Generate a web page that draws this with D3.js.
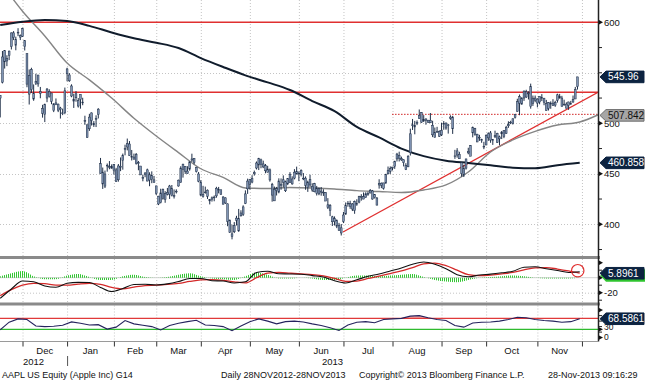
<!DOCTYPE html>
<html>
<head>
<meta charset="utf-8">
<script src="https://cdn.jsdelivr.net/npm/d3@7"></script>
<style>
  body { margin: 0; background: #fff; }
  svg text { font-family: "Liberation Sans", Arial, sans-serif; }
</style>
</head>
<body>
<div id="chart"></div>
<script>
// Daily bars [open, high, low, close], one small array per month
const nov2012 = [[525,528,505.8,527.7],[540.7,571.6,539.5,565.7],[571.9,571.9,554.2,560.9],[564.3,567.4,556.6,561.7],[567.2,572,562.6,571.5],[575.9,590,573.1,589.5],[589.6,591.3,582.4,584.8],[577.3,585.8,572.3,582.9],[590.2,594.2,586.3,589.4],[586.8,588,582.4,585.3]];
const dec2012 = [[593.7,594.6,585.5,586.2],[581.8,581.8,572.1,575.9],[568.9,569,535.7,538.8],[528.9,553.3,518.6,547.2],[553.4,555,530,533.3],[524,538.5,522.3,529.8],[539.8,549.1,537.9,541.4],[547.8,547.9,536.2,539],[531.5,536,524.8,529.7],[514.8,518.3,505.6,509.8],[508.9,519.5,501.2,518.8],[525,534.9,520.9,533.9],[531.5,533.7,525.5,526.3],[530,530.2,518.9,521.7],[512.5,519.9,511.1,519.3],[518.4,524.6,518,520.2],[519,519.5,511.1,513],[513.5,516.3,504.7,515.1],[510.3,514.5,508.1,509.6],[510.5,535.4,509,532.2]];
const jan2013 = [[553.8,555,541.6,549],[547.9,549.7,541,542.1],[537,538.6,525.8,527],[522,529.3,515.2,523.9],[529.2,531.9,521.4,525.3],[522.5,525,515.6,517.1],[528.6,528.6,514.5,523.5],[521,525.3,517.9,520.3],[502.7,507.5,498.5,501.8],[498.5,498.9,485.6,485.9],[494.6,509.4,492.5,506.1],[510.3,510.8,497.8,502.7],[498.5,502.2,496.4,500],[504.6,507.9,496.3,504.8],[508.8,515,504.8,514],[460,465.7,450.2,450.5],[451.7,456.2,435,439.9],[437.8,453.2,435.9,449.8],[458.5,460.2,452.1,458.3],[457,462.6,454.5,456.8],[457,459.3,455.1,455.5]];
const feb2013 = [[459.1,459.7,449.2,453.6],[453.9,455.9,441.9,442.3],[444.1,459.7,442.2,457.8],[456.5,466.2,452.6,457.4],[463.3,470,454.1,468.2],[474,478.8,468.3,475],[476.5,484.9,473.2,479.9],[479.5,482.4,467.7,467.9],[467.2,473.6,463.2,467],[464.5,470,464.1,466.6],[468.9,470.6,459.1,460.2],[461.1,462.7,453.5,460],[457.7,457.7,448.8,448.9],[446,449.2,442.6,446.1],[449.3,451.6,446.6,450.8],[453.9,455.1,442.6,442.8],[443.8,451.5,437.7,449],[448.4,452.4,440.7,444.6],[444,447.9,441.4,441.4]];
const mar2013 = [[438,438.2,429,430.5],[427.8,428.2,419,420.1],[421.5,435.2,420.7,431.1],[434.5,435.4,424.4,425.7],[424.5,432.8,421.3,430.6],[429.8,436,428.6,431.7],[429.8,439,425.1,437.9],[435.6,438.9,427.6,428.4],[428.4,434.5,425.5,428.4],[432.8,434.6,430.5,432.5],[437.9,444.2,437.3,443.7],[441.5,457.5,441.2,455.7],[459.5,460,446.2,454.5],[457.4,457.6,449.9,452.1],[450.2,457.5,450.1,452.7],[454.6,462.1,453.1,461.9],[464.7,469.9,461.7,463.6],[465.4,465.5,459.4,461.1],[456.5,456.9,451.3,452.1],[449.8,451.8,441.6,442.7]];
const apr2013 = [[441.9,443.7,427.7,428.9],[427.6,438.1,426.4,429.8],[431.4,437.3,430.3,432],[433.8,434.5,425.1,427.7],[424.5,424.9,419.7,423.2],[424.9,427.5,422.5,426.2],[426.4,428.5,422.8,427],[428.1,437.1,426.3,435.7],[433.7,437,430.6,434.3],[434.2,434.2,429.1,429.8],[427,427.9,419.7,419.9],[421.1,426.7,420.1,426.2],[420.3,420.6,398.1,402.8],[404.1,404.7,391.4,392.1],[388,399.6,385.1,390.5],[392.6,402.2,391.3,398.7],[404,408.4,398.8,406.1],[393.5,415.2,392.5,405.5],[411.2,413.9,407.6,408.4],[409.8,418.8,408.3,417.2],[420.5,433.6,420,430.1],[435.1,445.2,430.1,442.8]];
const may2013 = [[444.5,444.9,434.4,439.3],[441.8,448.6,440.6,445.5],[451.3,453.2,448.2,450],[455.7,462.2,454.3,460.7],[465,465.8,453.7,458.7],[459,465,455.5,463.8],[459.8,463,455.6,456.8],[458,459.7,450.5,453],[451.5,457.9,451.5,454.7],[453.9,455.2,442.2,443.9],[439.2,441,422.4,428.9],[423.2,437.4,423.2,434.6],[435.2,437,428.5,433.3],[431.9,445.5,430.7,442.9],[438.2,445.4,434.2,439.7],[444.1,448.4,436.5,441.4],[433.2,443.2,432,442.1],[440.1,445.3,438.8,445.2],[449.2,451.6,440.9,441.4],[440,447.5,439.2,444.9],[445.7,454.6,444.5,451.6],[452.5,457.1,449.5,449.7]];
const jun2013 = [[450.7,452.4,442.7,450.7],[453.2,454.4,447.4,449.3],[445.7,450.7,443.7,445.1],[445.7,447.4,434.2,438.5],[436.5,443.2,432.1,441.8],[444.6,449.1,436.8,438.9],[433.9,440.6,432.2,437.6],[440.3,441,431.7,432.2],[430.7,438,428.5,436],[435.3,436.6,428.8,430.1],[432.9,436.9,428.3,431.8],[431.1,434.7,428.1,431.8],[431.4,431.8,423.1,423],[419.3,425.9,415.1,416.8],[418.5,420,408.1,413.5],[407.4,408.4,398.3,402.5],[405.6,407.8,398.8,402.6],[403.7,404.8,396.2,398.1],[399,401.4,393.6,393.8],[391.4,400.3,388.9,396.5]];
const jul2013 = [[402.7,412.3,401.2,409.2],[410,421.6,409.5,418.5],[420.9,423,417.4,420.8],[420.4,423.3,415.3,417.4],[420.1,421,413.1,415.1],[413.6,423.5,410.4,422.4],[419.6,424.8,418.3,420.7],[422,428.2,420.8,427.3],[427.6,429.8,423.4,426.5],[425,431.5,424.8,427.4],[426.5,431.7,426.4,430.2],[429.7,432.2,428.2,430.3],[433.4,434.9,430.6,431],[433.1,434,424.4,425],[429.5,429.7,425.5,426.3],[426,427,418.7,419],[438.9,444.6,435.3,440.5],[440.7,441.4,435.8,438.5],[435.7,441,434.3,441],[440.8,450,440.2,449.4],[450,457.2,449.4,453.3],[455,457.3,449.9,452.5]];
const aug2013 = [[455.8,456.8,453.3,456.7],[457.4,462.9,454.9,462.5],[464.7,470.7,462.2,469.5],[468,471.9,462.2,465.3],[463.8,467,462.8,465],[463.9,464.4,457.3,461],[458.2,460.5,453.7,454.5],[456.9,468.4,456.6,467.4],[470.9,494.7,468.1,489.6],[497.9,504.3,493.4,498.5],[496.4,502.4,489.1,497.9],[499.7,502.9,498.2,501],[504.6,513.7,504.4,507.7],[510.8,511.1,500.5,501.1],[503.6,508.1,501.3,502.4],[504.3,504.9,498.6,503],[503.1,503.3,500.4,501],[500.5,510.2,500.3,503],[498,502.5,486.3,488.6],[486,495.8,486,490.9],[491.6,496.5,491.1,491.7],[492,493,486.5,487.2]];
const sep2013 = [[493.1,500.6,487.4,488.6],[499.6,502.2,493.6,498.7],[500.3,500.7,493.6,495.3],[498.4,499.4,489.8,498.2],[505,507.9,503.5,506.2],[506.2,507.4,489.5,494.6],[467,473.7,464.8,467.7],[468.5,475.4,466,472.7],[469.3,471.8,464.7,464.9],[461,461.6,447.2,450.1],[448.7,459,446.8,455.3],[455.6,465,454.2,464.7],[470.7,475.8,469.3,472.3],[478,478.5,467.8,467.4],[496.1,496.8,486.1,490.6],[494.9,495.5,487.7,489.1],[489.2,489.6,481.4,481.5],[486,488.6,482.6,486.2],[483.8,484.7,480.7,482.8],[477.3,481.7,474.4,476.8]];
const oct2013 = [[478.5,489.1,478.4,488],[485.6,491,482.6,489.6],[490.5,492.4,480.7,483.4],[483.9,484.5,478.6,483],[486.6,492.7,485.4,487.8],[489.9,490.6,480.5,480.9],[484.6,487.8,478.3,486.6],[491.3,492.4,484.4,489.6],[487,493,485.3,492.8],[489.8,497.5,489.4,496],[497.5,502,495.5,498.7],[500.8,502.5,499.2,501.1],[500,504.8,498.8,504.5],[506,509.3,504.7,508.9],[511.8,524.3,511.5,521.4],[526.4,528.5,508,519.9],[519,525.8,518.4,525],[525,532.5,522.2,531.9],[531.3,533.2,525.1,526],[529.3,531.7,523.6,529.9],[536.3,539.3,514.5,516.7],[519.6,527.5,517.2,524.9],[525,527.5,520.9,522.7]];
const nov2013 = [[524,524.8,515.8,520],[521.1,526.8,518.8,526.8],[524.6,528.9,522,525.5],[524.9,525,517.9,520.9],[519.6,523.2,512.4,512.5],[514.6,521.1,512.7,520.6],[520,521.7,514.4,519.1],[517.7,523.9,517.2,520],[518,522.3,516.3,520.6],[522.8,529.3,520.5,528.2],[526.6,529.1,524.5,525],[525,527.2,517,516.5],[519,523.4,517.4,519],[519,520.8,514.7,515],[517.7,521.4,513.3,521.1],[519.5,522.2,518.3,519.8],[521,527.5,520.5,523.7],[524.1,536,524,533.4],[536.3,546,533.4,545.96]];

// Moving averages read every 10 bars, starting at bar -10
const ma50 = [640,611,586.5,559.7,543,525,505,487.4,471,455,446.5,436,435.5,436.5,436,435,433.3,432.5,431.5,434,439,451.8,471.6,483.5,492,498.3,501.3,510.2];
const ma200 = [597.3,600.6,602.3,601.3,596.5,590,584.2,579.8,574.5,564.6,555.8,547.5,540.5,533,522,512,496.4,486,475,467.5,463,460.7,458.5,456,455.5,458.5,460.9];

// MACD, signal and histogram read every 5 bars, starting at bar -10
const macdLine = [-27.5,-15,-4.5,-5.5,-11,-12.8,-7.5,-6.2,-6.5,-13,-18.5,-14.5,-9,-8.8,-9.8,-8.3,-5.2,-1,-1,-4,-4.5,-7,-5.5,7,8.5,5.2,5,4.6,2.8,1,-4,-7,-2.8,1.8,5,9,13,18,21,18,12,4,1.2,3.5,4.8,6.5,8.5,14,14.5,12,9.5,7,8];
const macdSignal = [-24,-16,-10,-7.5,-8,-10,-10,-8.5,-7.5,-9,-13,-15,-12.5,-10.5,-10,-9,-7.5,-5,-3,-2.5,-3.5,-5.5,-7,0,6,7,6,5,4,2.5,-1,-5,-4.5,-1,2,5.5,9,13.5,18.5,19.5,16,10,4,2.8,3.5,5,7,10.5,13,13.5,11.5,9,6];
const macdHist = [2,6,9,2,-2,-2,3,5,1,-3,-3,2,4,1,0,1,4,6,2,-1,-2,-3,2,7,4,-1,-1,0,-1,-3,-3,0,3,3,2,3,4,5,1,-3,-5,-6,-3,0,1,2,3,2,0,-1,-1,-1,0];

// RSI read every 4 bars, starting at bar -10
const rsi = [28,56,68,66,42,40,41,45,57,52,46,47,31,38,62,50,45,40,28,44,52,58,63,46,44,40,25,42,58,68,60,50,58,60,57,50,44,36,26,46,56,58,54,66,68,70,78,80,72,66,62,44,38,53,56,57,60,66,74,72,66,62,60,56,58,68.6];

// Axis ticks and labels
const monthStarts = [0,20,41,60,80,102,124,144,166,188,208,231,251];
const monthNames = ["Dec","Jan","Feb","Mar","Apr","May","Jun","Jul","Aug","Sep","Oct","Nov"];
const priceMajor = [600,500,450,400];
const priceMinor = [575,550,525,475,425,375];
const priceGrid = [550,500,450,400];
const macdMajor = [20,0,-20];
const macdMinor = [10,-10,-30];
const rsiMajor = [100,30,0];
const rsiMinor = [80,60,40,20];

// Annotations (bar index, price)
const resistance = [600, 530.7];
const dottedLevel = {from: 165.8, value: 508.9};
const trendLine = [[143.8, 392.4],[258.2, 530.7]];

const lastClose = "545.96", lastMa50 = "507.842", lastMa200 = "460.858";
const lastMacd = "5.8961", lastRsi = "68.5861";

const W = 645, H = 380;
const plotR = 598;
const firstBar = -nov2012.length;

const bars = [].concat(nov2012, dec2012, jan2013, feb2013, mar2013, apr2013, may2013,
  jun2013, jul2013, aug2013, sep2013, oct2013, nov2013)
  .map((d, k) => ({i: firstBar + k, o: d[0], h: d[1], l: d[2], c: d[3]}));

const panel = {
  main: {top: 0, bottom: 256},
  macd: {top: 259, bottom: 302.5},
  rsi: {top: 305.5, bottom: 341.5}
};

const x = d3.scaleLinear().domain([-10.1, 258.2]).range([0, plotR]);
const yMain = d3.scaleLinear().domain([368.6, 622.1]).range([256, 0]);
const yMacd = d3.scaleLinear().domain([-32.4, 24.9]).range([302, 259]);
const yRsi = d3.scaleLinear().domain([0, 100]).range([337.6, 310.1]);

const svg = d3.select("#chart").append("svg")
  .attr("width", W).attr("height", H)
  .style("display", "block");

const defs = svg.append("defs");
Object.entries(panel).forEach(([k, p]) => {
  defs.append("clipPath").attr("id", "clip-" + k)
    .append("rect").attr("x", 0).attr("y", p.top)
    .attr("width", plotR).attr("height", p.bottom - p.top);
});
defs.append("pattern").attr("id", "hatch")
  .attr("width", 2).attr("height", 4).attr("patternUnits", "userSpaceOnUse")
  .append("rect").attr("width", 1).attr("height", 4).attr("fill", "#33c733");

// vertical month grid lines in every panel
Object.values(panel).forEach(p => {
  svg.append("g").selectAll("line").data(monthStarts).join("line")
    .attr("x1", d => x(d) + 0.5).attr("x2", d => x(d) + 0.5)
    .attr("y1", p.top).attr("y2", p.bottom)
    .attr("stroke", "#c4c4c4").attr("stroke-dasharray", "1,2");
});

// ---------- main price panel ----------
const gMain = svg.append("g").attr("clip-path", "url(#clip-main)");

gMain.selectAll(".hgrid").data(priceGrid).join("line")
  .attr("x1", 0).attr("x2", plotR)
  .attr("y1", d => Math.round(yMain(d)) + 0.5).attr("y2", d => Math.round(yMain(d)) + 0.5)
  .attr("stroke", "#c4c4c4").attr("stroke-dasharray", "1,2");

gMain.selectAll(".res").data(resistance).join("line")
  .attr("x1", 0).attr("x2", plotR)
  .attr("y1", d => yMain(d)).attr("y2", d => yMain(d))
  .attr("stroke", "#e03030").attr("stroke-width", 1.4);

gMain.append("line")
  .attr("x1", x(dottedLevel.from)).attr("x2", plotR)
  .attr("y1", yMain(dottedLevel.value)).attr("y2", yMain(dottedLevel.value))
  .attr("stroke", "#d02020").attr("stroke-dasharray", "1.5,1.5");

gMain.append("line")
  .attr("x1", x(trendLine[0][0])).attr("y1", yMain(trendLine[0][1]))
  .attr("x2", x(trendLine[1][0])).attr("y2", yMain(trendLine[1][1]))
  .attr("stroke", "#e03030").attr("stroke-width", 1.3);

const maLine = d3.line().curve(d3.curveMonotoneX);
gMain.append("path")
  .attr("d", maLine(ma50.map((v, k) => [x(-10 + k * 10), yMain(v)])))
  .attr("fill", "none").attr("stroke", "#858585").attr("stroke-width", 1.4);
gMain.append("path")
  .attr("d", maLine(ma200.map((v, k) => [x(-10 + k * 10), yMain(v)])))
  .attr("fill", "none").attr("stroke", "#101c2c").attr("stroke-width", 2);

// price bars
const gBars = gMain.append("g");
gBars.selectAll(".hl").data(bars).join("line")
  .attr("x1", d => x(d.i)).attr("x2", d => x(d.i))
  .attr("y1", d => yMain(d.h)).attr("y2", d => yMain(d.l))
  .attr("stroke", "#1e2e47").attr("stroke-width", 1);
gBars.selectAll(".body").data(bars).join("rect")
  .attr("x", d => x(d.i) - 0.9).attr("width", 1.8)
  .attr("y", d => yMain(Math.max(d.o, d.c)))
  .attr("height", d => Math.max(0.8, Math.abs(yMain(d.o) - yMain(d.c))))
  .attr("fill", "#8094b3").attr("stroke", "#1e2e47").attr("stroke-width", 0.5);

// ---------- MACD panel ----------
const gMacd = svg.append("g").attr("clip-path", "url(#clip-macd)");
const macdX = k => x(-10 + k * 5);

gMacd.append("line")
  .attr("x1", 0).attr("x2", plotR)
  .attr("y1", yMacd(-20) + 0.5).attr("y2", yMacd(-20) + 0.5)
  .attr("stroke", "#c4c4c4").attr("stroke-dasharray", "1,2");
gMacd.append("line")
  .attr("x1", 0).attr("x2", plotR)
  .attr("y1", yMacd(0)).attr("y2", yMacd(0))
  .attr("stroke", "#d2d2d2");

gMacd.append("path")
  .attr("d", d3.area().curve(d3.curveMonotoneX)
    .x((v, k) => macdX(k)).y0(yMacd(0)).y1(v => yMacd(v))(macdHist))
  .attr("fill", "url(#hatch)");

gMacd.append("path")
  .attr("d", d3.line().curve(d3.curveMonotoneX)
    .x((v, k) => macdX(k)).y(v => yMacd(v))(macdSignal))
  .attr("fill", "none").attr("stroke", "#d42a2a").attr("stroke-width", 1.3);
gMacd.append("path")
  .attr("d", d3.line().curve(d3.curveMonotoneX)
    .x((v, k) => macdX(k)).y(v => yMacd(v))(macdLine))
  .attr("fill", "none").attr("stroke", "#111").attr("stroke-width", 1.1);

gMacd.append("circle")
  .attr("cx", macdX(macdLine.length - 1) - 2).attr("cy", yMacd(macdLine[macdLine.length - 1]) - 1)
  .attr("r", 6.2).attr("fill", "none").attr("stroke", "#e03030").attr("stroke-width", 1.2);

// ---------- RSI panel ----------
const gRsi = svg.append("g").attr("clip-path", "url(#clip-rsi)");
const rsiX = k => x(-10 + k * 4);
const rsiLine = d3.line().x((v, k) => rsiX(k)).y(v => yRsi(v));

defs.append("clipPath").attr("id", "clip-over")
  .append("rect").attr("x", 0).attr("y", panel.rsi.top).attr("width", plotR)
  .attr("height", yRsi(70) - panel.rsi.top);
defs.append("clipPath").attr("id", "clip-under")
  .append("rect").attr("x", 0).attr("y", yRsi(30)).attr("width", plotR)
  .attr("height", panel.rsi.bottom - yRsi(30));
gRsi.append("path").attr("clip-path", "url(#clip-over)")
  .attr("d", d3.area().x((v, k) => rsiX(k)).y0(yRsi(70)).y1(v => yRsi(v))(rsi))
  .attr("fill", "#f2a9a9");
gRsi.append("path").attr("clip-path", "url(#clip-under)")
  .attr("d", d3.area().x((v, k) => rsiX(k)).y0(yRsi(30)).y1(v => yRsi(v))(rsi))
  .attr("fill", "#a9e6a9");

gRsi.append("line").attr("x1", 0).attr("x2", plotR)
  .attr("y1", yRsi(70)).attr("y2", yRsi(70)).attr("stroke", "#e03a3a").attr("stroke-width", 1.2);
gRsi.append("line").attr("x1", 0).attr("x2", plotR)
  .attr("y1", yRsi(30)).attr("y2", yRsi(30)).attr("stroke", "#2fba2f").attr("stroke-width", 1.2);
gRsi.append("path").attr("d", rsiLine(rsi))
  .attr("fill", "none").attr("stroke", "#25235e").attr("stroke-width", 1.1);

// ---------- panel separators and right axis ----------
[panel.main.bottom, panel.macd.bottom].forEach(y0 => {
  svg.append("rect").attr("x", 0).attr("y", y0).attr("width", plotR + 2).attr("height", 3)
    .attr("fill", "#8a8a8a");
});
svg.append("line").attr("x1", plotR + 0.5).attr("x2", plotR + 0.5)
  .attr("y1", 0).attr("y2", panel.rsi.bottom)
  .attr("stroke", "#222").attr("stroke-width", 1.5);
svg.append("line").attr("x1", 0).attr("x2", plotR)
  .attr("y1", panel.rsi.bottom).attr("y2", panel.rsi.bottom)
  .attr("stroke", "#9a9a9a");

function arrowTick(y) {
  svg.append("path")
    .attr("d", `M${plotR + 1},${y - 2.2}L${plotR + 5},${y}L${plotR + 1},${y + 2.2}Z`)
    .attr("fill", "#111");
}
function minorTick(y) {
  svg.append("line").attr("x1", plotR + 1).attr("x2", plotR + 4)
    .attr("y1", y).attr("y2", y).attr("stroke", "#222");
}
function axisLabel(y, t, size) {
  svg.append("text").attr("x", plotR + 6).attr("y", y).attr("dy", "0.35em")
    .attr("font-size", size || 9.5).attr("fill", "#111").text(t);
}

priceMajor.forEach(v => { arrowTick(yMain(v)); axisLabel(yMain(v), v); });
priceMinor.forEach(v => minorTick(yMain(v)));
macdMajor.forEach(v => arrowTick(yMacd(v)));
macdMinor.forEach(v => minorTick(yMacd(v)));
axisLabel(yMacd(-20), "-20");
rsiMajor.forEach(v => arrowTick(yRsi(v)));
rsiMinor.forEach(v => minorTick(yRsi(v)));
axisLabel(yRsi(30) - 2.5, "30", 8.5);
axisLabel(yRsi(0) - 0.5, "0", 8.5);

// value tags on the axis
function valueTag(y, t, fill, color, border) {
  const g = svg.append("g");
  g.append("path")
    .attr("d", `M${plotR + 2},${y}L${plotR + 8},${y - 5.8}L${W - 1},${y - 5.8}L${W - 1},${y + 5.8}L${plotR + 8},${y + 5.8}Z`)
    .attr("fill", fill).attr("stroke", border).attr("stroke-width", 1);
  g.append("text").attr("x", plotR + 10).attr("y", y).attr("dy", "0.36em")
    .attr("font-size", 10).attr("fill", color).text(t);
}
valueTag(yMain(+lastMa50), lastMa50, "#a6a6a6", "#111", "#6e6e6e");
valueTag(yMain(+lastMa200), lastMa200, "#0c2340", "#fff", "#0c2340");
valueTag(yMain(+lastClose), lastClose, "#0c2340", "#fff", "#0c2340");
// histogram tag peeking out below the MACD tag
svg.append("path")
  .attr("d", `M${plotR + 2},${yMacd(+lastMacd) + 2}L${plotR + 8},${yMacd(+lastMacd) + 8.5}L${W},${yMacd(+lastMacd) + 8.5}L${W},${yMacd(+lastMacd) - 4}Z`)
  .attr("fill", "#2fc42f");
valueTag(yMacd(+lastMacd), lastMacd, "#0c2340", "#fff", "#0c2340");
valueTag(yRsi(+lastRsi), lastRsi, "#0c2340", "#fff", "#0c2340");

// ---------- x axis ----------
svg.append("g").selectAll("line").data(monthStarts).join("line")
  .attr("x1", d => x(d) + 0.5).attr("x2", d => x(d) + 0.5)
  .attr("y1", panel.rsi.bottom).attr("y2", panel.rsi.bottom + 5)
  .attr("stroke", "#333");

svg.append("g").selectAll("text").data(monthNames).join("text")
  .attr("x", (d, k) => (x(monthStarts[k]) + x(monthStarts[k + 1])) / 2)
  .attr("y", 353.5).attr("text-anchor", "middle")
  .attr("font-size", 9.5).attr("fill", "#111").text(d => d);

const yearLabels = [{t: "2012", a: -10.1, b: 20}, {t: "2013", a: 20, b: 258.2}];
svg.append("g").selectAll("text").data(yearLabels).join("text")
  .attr("x", d => (x(d.a) + x(d.b)) / 2).attr("y", 364.5).attr("text-anchor", "middle")
  .attr("font-size", 9.5).attr("fill", "#111").text(d => d.t);
svg.append("line").attr("x1", x(20) + 0.5).attr("x2", x(20) + 0.5)
  .attr("y1", 356).attr("y2", 366).attr("stroke", "#555");

// footer
const footer = [
  {x: 2, t: "AAPL US Equity (Apple Inc) G14"},
  {x: 221, t: "Daily 28NOV2012-28NOV2013"},
  {x: 359, t: "Copyright\u00a9 2013 Bloomberg Finance L.P."},
  {x: 548, t: "28-Nov-2013 09:16:29"}
];
svg.append("g").selectAll("text").data(footer).join("text")
  .attr("x", d => d.x).attr("y", 377.5)
  .attr("font-size", 9).attr("fill", "#111").text(d => d.t);
</script>
</body>
</html>
